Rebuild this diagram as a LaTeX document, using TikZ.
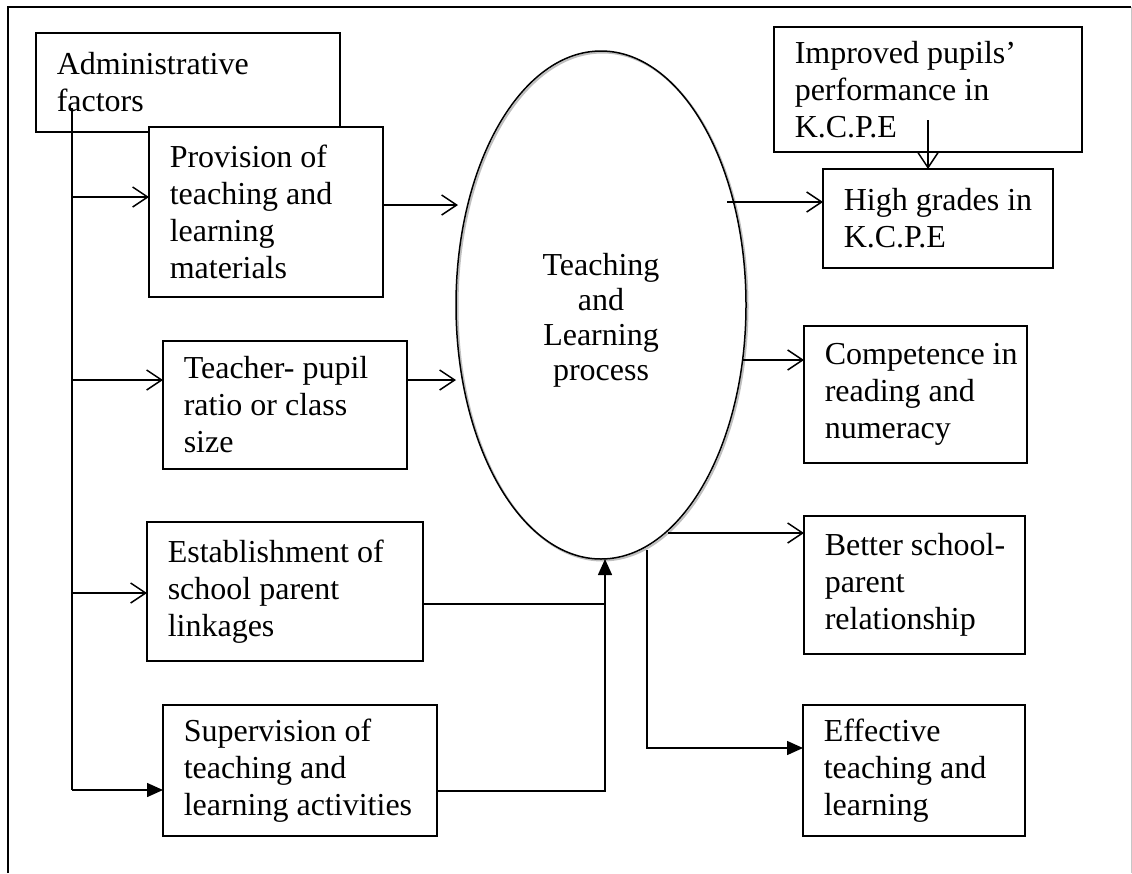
\documentclass[tikz,border=0pt]{standalone}
\usepackage{fontspec}
\setmainfont{Liberation Serif}
\usetikzlibrary{arrows.meta,shapes.geometric}
\begin{document}
\begin{tikzpicture}[x=1pt,y=-1pt,
  every path/.style={line width=1.5pt},
  txt/.style={font=\fontsize{32}{37}\selectfont},
  bx/.style={draw, fill=white, anchor=north west, inner sep=0pt, outer sep=0pt},
  bt/.style={txt, align=left, anchor=west, inner sep=0pt},
  openarr/.style={-{Straight Barb[length=15pt,width=20pt]}},
  fillarr/.style={-{Triangle[length=16pt,width=14pt]}}
]
\useasboundingbox (0,0) rectangle (1132,873);
% frame
\draw (8,873) -- (8,7) -- (1131,7);
\draw[gray!45, line width=1pt] (1131,7) -- (1131,873);

\newcommand{\mybox}[6]{% name, x1, y1, x2, y2, text
  \pgfmathsetmacro{\bw}{#4-#2}\pgfmathsetmacro{\bh}{#5-#3}
  \node[bx, minimum width=\bw pt, minimum height=\bh pt] (#1) at (#2,#3) {};
  \node[bt] (#1t) at ([xshift=20pt]#1.west) {#6};}

% left column
\mybox{adm}{36}{33}{340}{132}{Administrative\\factors}
\coordinate (v0) at (72,108);
\coordinate (b1) at (72,197);
\coordinate (b2) at (72,380);
\coordinate (b3) at (72,593);
\coordinate (v1) at (72,790);
\draw (v0) -- (v1);
\mybox{prov}{149}{127}{383}{297}{Provision of\\teaching and\\learning\\materials}
\mybox{tpr}{163}{341}{407}{469}{Teacher- pupil\\ratio or class\\size}
\mybox{est}{147}{522}{423}{661}{Establishment of\\school parent\\linkages}
\mybox{sup}{163}{705}{437}{836}{Supervision of\\teaching and\\learning activities}

% right column
\mybox{imp}{774}{27}{1082}{152}{Improved pupils’\\performance in\\K.C.P.E}
\mybox{hig}{823}{169}{1053}{268}{High grades in\\K.C.P.E}
\mybox{com}{804}{326}{1027}{463}{Competence in\\reading and\\numeracy}
\mybox{bet}{804}{516}{1025}{654}{Better school-\\parent\\relationship}
\mybox{eff}{803}{705}{1025}{836}{Effective\\teaching and\\learning}

% central ellipse
\draw[gray!50, line width=2pt] (602.5,306.5) ellipse [x radius=145pt, y radius=254pt];
\node[draw, ellipse, minimum width=290pt, minimum height=508pt, inner sep=0pt, outer sep=0pt] (tlp) at (601,305) {};
\node[txt, align=center, inner sep=0pt] (tlptext) at (601,320) {Teaching\\[-2pt]and\\[-2pt]Learning\\[-2pt]process};

% branches from administrative factors
\draw[openarr] (b1) -- (prov.west |- b1);
\draw[openarr] (b2) -- (tpr.west |- b2);
\draw[openarr] (b3) -- (est.west |- b3);
\draw[fillarr] (v1) -- (sup.west |- v1);

% inputs to ellipse
\coordinate (p1) at (458,205);
\coordinate (p2) at (456,380);
\draw[openarr] (prov.east |- p1) -- (p1);
\draw[openarr] (tpr.east |- p2) -- (p2);
\coordinate (j1) at (605,604);
\coordinate (j2) at (605,791);
\draw (est.east |- j1) -- (j1);
\draw[fillarr] (sup.east |- j2) -- (j2) -- (j2 |- tlp.south);

% outputs
\coordinate (e1) at (727,202);
\coordinate (e2) at (742,360);
\coordinate (e3) at (668,533);
\coordinate (e4) at (647,550);
\coordinate (e5) at (647,748);
\draw[openarr] (e1) -- (hig.west |- e1);
\draw[openarr] (e2) -- (com.west |- e2);
\draw[openarr] (e3) -- (bet.west |- e3);
\draw[fillarr] (e4) -- (e5) -- (eff.west |- e5);
\coordinate (i1) at (928,120);
\draw[openarr] (i1) -- (i1 |- hig.north);
\end{tikzpicture}
\end{document}
